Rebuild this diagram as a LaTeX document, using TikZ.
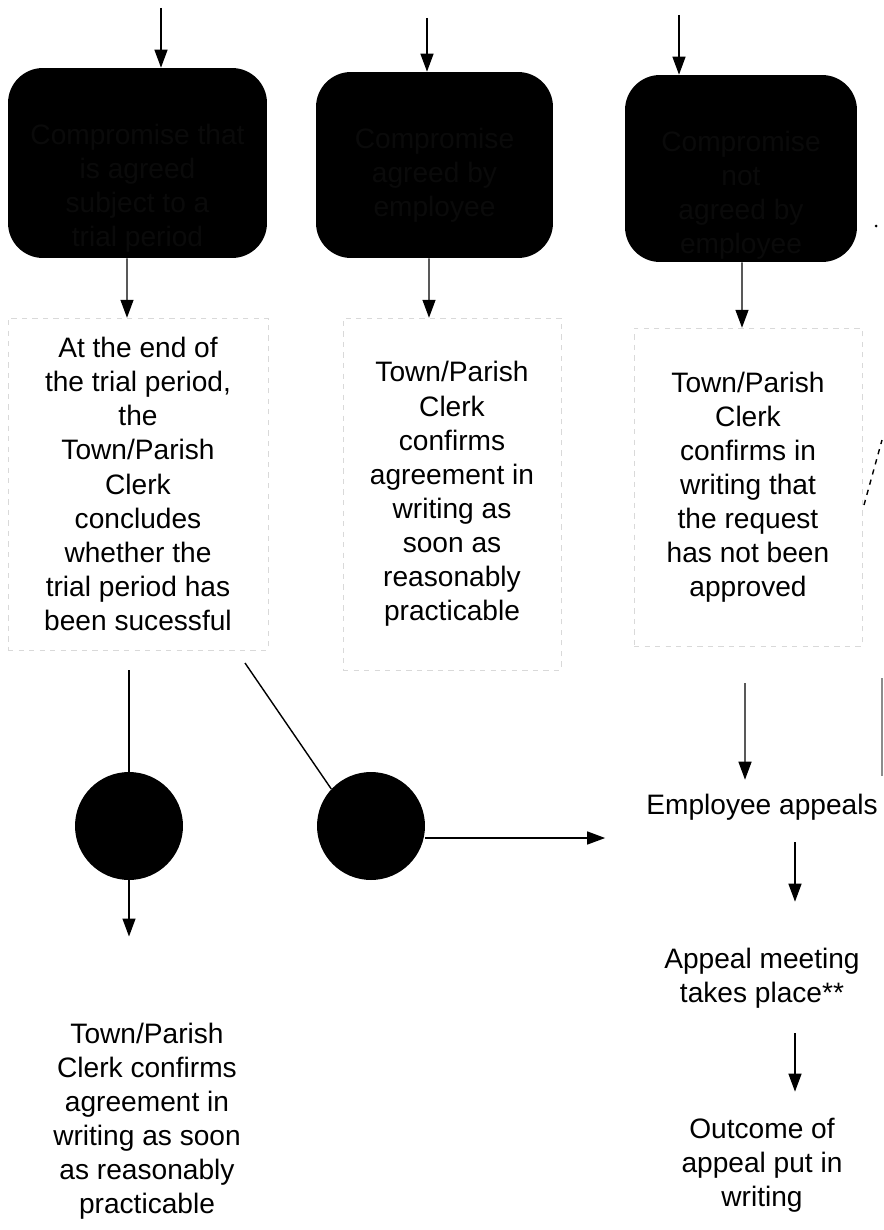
\documentclass[tikz,border=0pt]{standalone}
\usepackage{fontspec}
\setmainfont{Liberation Sans}
\usetikzlibrary{arrows.meta}
\definecolor{boxink}{gray}{0.04}

\begin{document}
\begin{tikzpicture}[x=0.02cm, y=-0.02cm,
    arr/.style={-{Triangle[length=0.36cm,width=0.26cm]}, line width=0.8pt},
    blackbox/.style={fill=black, rounded corners=0.7cm, inner sep=0pt},
    boxtext/.style={text=boxink, align=center, font=\fontsize{16}{19.4}\selectfont},
    txt/.style={align=center, font=\fontsize{16}{19.4}\selectfont},
    txtbox/.style={txt, draw=black!15, dashed, line width=0.3pt, inner sep=0pt},
    dot/.style={circle, fill=black, minimum size=2.16cm, inner sep=0pt}]
    \useasboundingbox (0,0) rectangle (884,1230);

    % Nodes
    \node[blackbox, minimum width=5.18cm, minimum height=3.8cm,
      label={[boxtext, anchor=north, yshift=-1.0cm]north:{Compromise that\\is agreed\\subject to a\\trial period}}]
      (trialbox) at (137.5,163) {};
    \node[blackbox, minimum width=4.74cm, minimum height=3.72cm,
      label={[boxtext, anchor=north, yshift=-1.0cm]north:{Compromise\\agreed by\\employee}}]
      (agreebox) at (434.5,165) {};
    \node[blackbox, minimum width=4.64cm, minimum height=3.74cm,
      label={[boxtext, anchor=north, yshift=-1.0cm]north:{Compromise\\not\\agreed by\\employee}}]
      (refusebox) at (741,168.5) {};

    \node[txtbox, minimum width=5.2cm, minimum height=6.64cm] (trialtext) at (138,484)
      {At the end of\\the trial period,\\the\\Town/Parish\\Clerk\\concludes\\whether the\\trial period has\\been sucessful};
    \node[txtbox, minimum width=4.36cm, minimum height=7.04cm] (agreetext) at (452,494)
      {Town/Parish\\Clerk\\confirms\\agreement in\\writing as\\soon as\\reasonably\\practicable};
    \node[txtbox, minimum width=4.56cm, minimum height=6.36cm] (refusetext) at (748,487)
      {Town/Parish\\Clerk\\confirms in\\writing that\\the request\\has not been\\approved};

    \node[dot] (yescircle) at (129,826) {};
    \node[dot] (nocircle) at (371,826) {};

    \node[txt] (confirmtext) at (147,1121)
      {Town/Parish\\Clerk confirms\\agreement in\\writing as soon\\as reasonably\\practicable};
    \node[txt] (appealtext) at (762,807) {Employee appeals};
    \node[txt] (meetingtext) at (762,978) {Appeal meeting\\takes place**};
    \node[txt] (outcometext) at (762,1165) {Outcome of\\appeal put in\\writing};

    \coordinate (trialin) at (161,8);
    \coordinate (agreein) at (427,18);
    \coordinate (refusein) at (679,15);
    \coordinate (split) at (245,663);

    % Arrows
    \draw[arr] (trialin) -- (trialin |- trialbox.north);
    \draw[arr] (agreein) -- (agreein |- agreebox.north);
    \draw[arr] (refusein) -- (refusein |- refusebox.north);

    \draw[arr] ([xshift=-0.21cm]trialbox.south) -- ([xshift=-0.22cm]trialtext.north);
    \draw[arr] ([xshift=-0.11cm]agreebox.south) -- ([xshift=-0.46cm]agreetext.north);
    \draw[arr] ([xshift=0.02cm]refusebox.south) -- ([xshift=-0.12cm]refusetext.north);

    % Trial outcome
    \draw[line width=0.8pt, shorten <=0.4cm] (trialtext.south -| yescircle.north) -- (yescircle.north);
    \draw[line width=0.8pt] (split) -- (nocircle.137);
    \draw[arr, shorten >=1.6cm] (yescircle.south) -- (yescircle.south |- confirmtext.north);
    \draw[arr, shorten >=0.7cm] ([yshift=-0.24cm]nocircle.east) -- ([yshift=-0.24cm]nocircle.east -| appealtext.west);

    % Appeal
    \draw[arr, shorten <=0.74cm, shorten >=0.16cm] ([xshift=-0.06cm]refusetext.south) -- ([xshift=-0.34cm]appealtext.north);
    \draw[arr, shorten <=0.32cm, shorten >=0.8cm] ([xshift=0.66cm]appealtext.south) -- ([xshift=0.66cm]meetingtext.north);
    \draw[arr, shorten <=0.38cm, shorten >=0.4cm] ([xshift=0.66cm]meetingtext.south) -- ([xshift=0.66cm]outcometext.north);

    % right edge fragments
    \draw[dashed, line width=0.8pt] (864,505) -- (882,440);
    \draw[black!45, line width=0.8pt] (882,678) -- (882,776);
    \fill (876,226) circle (0.03cm);
\end{tikzpicture}
\end{document}
